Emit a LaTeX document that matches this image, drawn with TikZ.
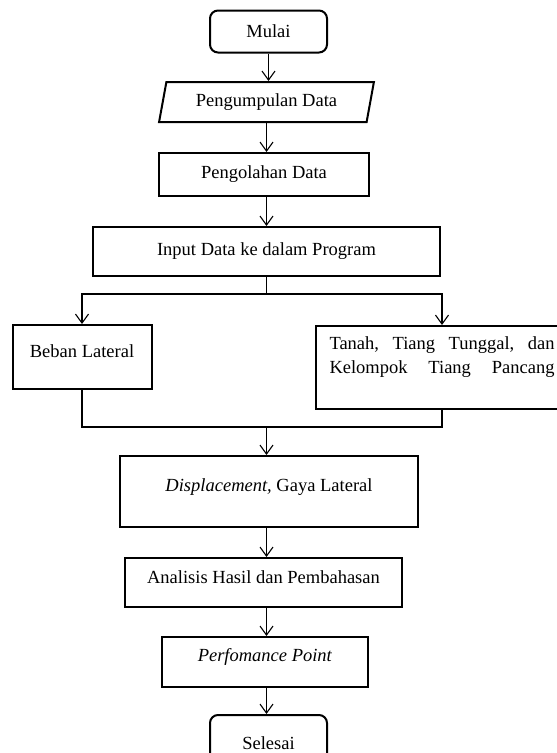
\documentclass[tikz,border=0pt]{standalone}
\usepackage{fontspec}
\setmainfont{Liberation Serif}
\usetikzlibrary{shapes.geometric,arrows.meta}

\begin{document}
\begin{tikzpicture}[x=1pt, y=-1pt,
		>={Straight Barb[length=9pt,width=13pt]},
		every node/.style={font=\fontsize{18.5}{24}\selectfont, inner sep=0pt},
		box/.style={draw, line width=2pt, rectangle},
		term/.style={box, rounded corners=8pt},
		io/.style={draw, line width=2pt, trapezium, trapezium left angle=73, trapezium right angle=107, trapezium stretches=true},
		line/.style={line width=1.1pt}]

		\useasboundingbox (0,0) rectangle (557,753);
		\clip (0,0) rectangle (557,753);

		\node [term, minimum width=117pt, minimum height=42pt] (0) at (268.5, 31.5) {Mulai};
		\node [io, minimum width=215pt, minimum height=40pt] (1) at (266.5, 102) {Pengumpulan Data};
		\node [box, minimum width=210pt, minimum height=43pt] (2) at (264, 174.5) {Pengolahan Data};
		\node [box, minimum width=347pt, minimum height=49pt] (3) at (266.5, 251.5) {Input Data ke dalam Program};
		\node [box, minimum width=139pt, minimum height=64pt, text depth=12pt] (4) at (82, 357) {Beban Lateral};
		\node [box, text width=225pt, inner xsep=14pt, minimum height=83pt, text depth=48pt, align=left] (5) at (442, 367.5) {Tanah,\hfill Tiang\hfill Tunggal,\hfill dan\\Kelompok\hfill Tiang\hfill Pancang};
		\node [box, minimum width=298pt, minimum height=71pt, text depth=12pt] (6) at (269, 491.5) {\textit{Displacement,} Gaya Lateral};
		\node [box, minimum width=277pt, minimum height=49pt, text depth=11pt] (7) at (263.5, 582.5) {Analisis Hasil dan Pembahasan};
		\node [box, minimum width=206pt, minimum height=50pt, text depth=14pt] (8) at (265, 662) {\textit{Perfomance Point}};
		\node [term, minimum width=117pt, minimum height=56pt] (9) at (268.5, 743) {Selesai};
		\coordinate (10) at (266.5, 294);
		\coordinate (11) at (266.5, 427);

		\draw [line,->] (0.south) to (0.south |- 1.north);
		\draw [line,->] (1.south) to (1.south |- 2.north);
		\draw [line,->] (2.south -| 10) to (3.north -| 10);
		\draw [line] (3.south -| 10) to (10);
		\draw [line,->] (10) -| (4.north);
		\draw [line,->] (10) -| (5.north);
		\draw [line] (4.south) |- (11);
		\draw [line] (5.south) |- (11);
		\draw [line,->] (11) to (11 |- 6.north);
		\draw [line,->] (6.south -| 11) to (7.north -| 11);
		\draw [line,->] (7.south -| 11) to (8.north -| 11);
		\draw [line,->] (8.south -| 11) to (9.north -| 11);
\end{tikzpicture}
\end{document}
